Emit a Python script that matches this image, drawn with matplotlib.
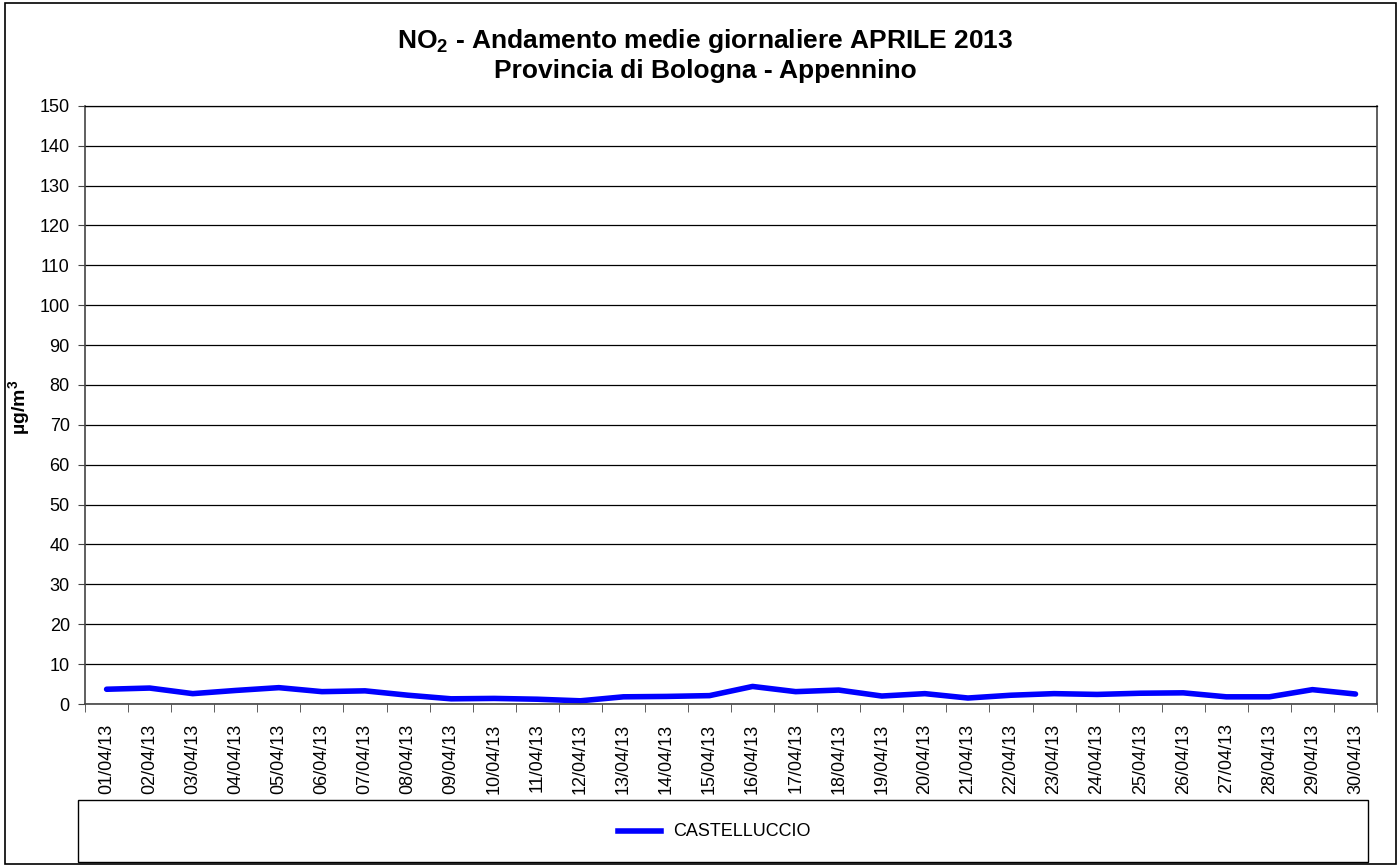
import numpy as np
import matplotlib.pyplot as plt
from matplotlib.patches import Rectangle
from matplotlib.lines import Line2D

plt.rcParams['font.family'] = ['Liberation Sans', 'DejaVu Sans']
plt.rcParams['mathtext.fontset'] = 'custom'
plt.rcParams['mathtext.rm'] = 'Liberation Sans'
plt.rcParams['mathtext.bf'] = 'Liberation Sans:bold'

days = ["%02d/04/13" % d for d in range(1, 31)]
castelluccio = [3.7, 4.0, 2.6, 3.4, 4.1, 3.1, 3.3, 2.2, 1.3, 1.4,
                1.2, 0.8, 1.8, 1.9, 2.1, 4.4, 3.1, 3.5, 2.0, 2.6,
                1.5, 2.2, 2.6, 2.4, 2.7, 2.8, 1.8, 1.8, 3.6, 2.5]
yticks = list(range(0, 151, 10))


def main():
    fig = plt.figure(figsize=(13.99, 8.67), dpi=100)
    # outer border
    fig.patches.append(Rectangle((0.0036, 0.0035), 0.9943, 0.993, transform=fig.transFigure,
                                 fill=False, edgecolor="black", linewidth=1.2))

    ax = fig.add_axes([0.0608, 0.188, 0.9235, 0.690])
    x = np.arange(len(days))
    ax.plot(x, castelluccio, color="#0000ff", linewidth=4, solid_capstyle="round")

    ax.set_xlim(-0.5, len(days) - 0.5)
    ax.set_ylim(0, 150)
    ax.set_yticks(yticks)
    ax.set_yticklabels([str(v) for v in yticks], fontsize=13)
    ax.yaxis.grid(True, color="black", linewidth=0.9)
    ax.set_axisbelow(True)

    ax.set_xticks(x)
    ax.set_xticklabels(days, rotation=90, fontsize=13)
    ax.tick_params(axis="x", length=0, pad=14)
    ax.set_xticks(np.arange(-0.5, len(days)), minor=True)
    ax.tick_params(axis="x", which="minor", length=6, direction="out", color="#444444")
    ax.tick_params(axis="y", length=5, direction="out", color="#444444", pad=6)
    for s in ax.spines.values():
        s.set_color("#444444")
        s.set_linewidth(1.2)
    ax.spines["top"].set_color("black")
    ax.spines["top"].set_linewidth(0.9)

    ax.set_ylabel("µg/m$^\\mathbf{3}$", fontsize=14, fontweight="bold")
    ax.yaxis.set_label_coords(-0.040, 0.495)

    fig.text(0.504, 0.953, "NO$_\\mathbf{2}$ - Andamento medie giornaliere APRILE 2013",
             ha="center", va="center", fontsize=19, fontweight="bold")
    fig.text(0.504, 0.918, "Provincia di Bologna - Appennino",
             ha="center", va="center", fontsize=19, fontweight="bold")

    # legend box
    fig.patches.append(Rectangle((0.0558, 0.0058), 0.922, 0.0715, transform=fig.transFigure,
                                 fill=False, edgecolor="black", linewidth=1))
    fig.lines.append(Line2D([0.4417, 0.4725], [0.0415, 0.0415], transform=fig.transFigure,
                            color="#0000ff", linewidth=4))
    fig.text(0.481, 0.0415, "CASTELLUCCIO", ha="left", va="center", fontsize=13)

    fig.savefig("out.png", dpi=100)


if __name__ == "__main__":
    main()
